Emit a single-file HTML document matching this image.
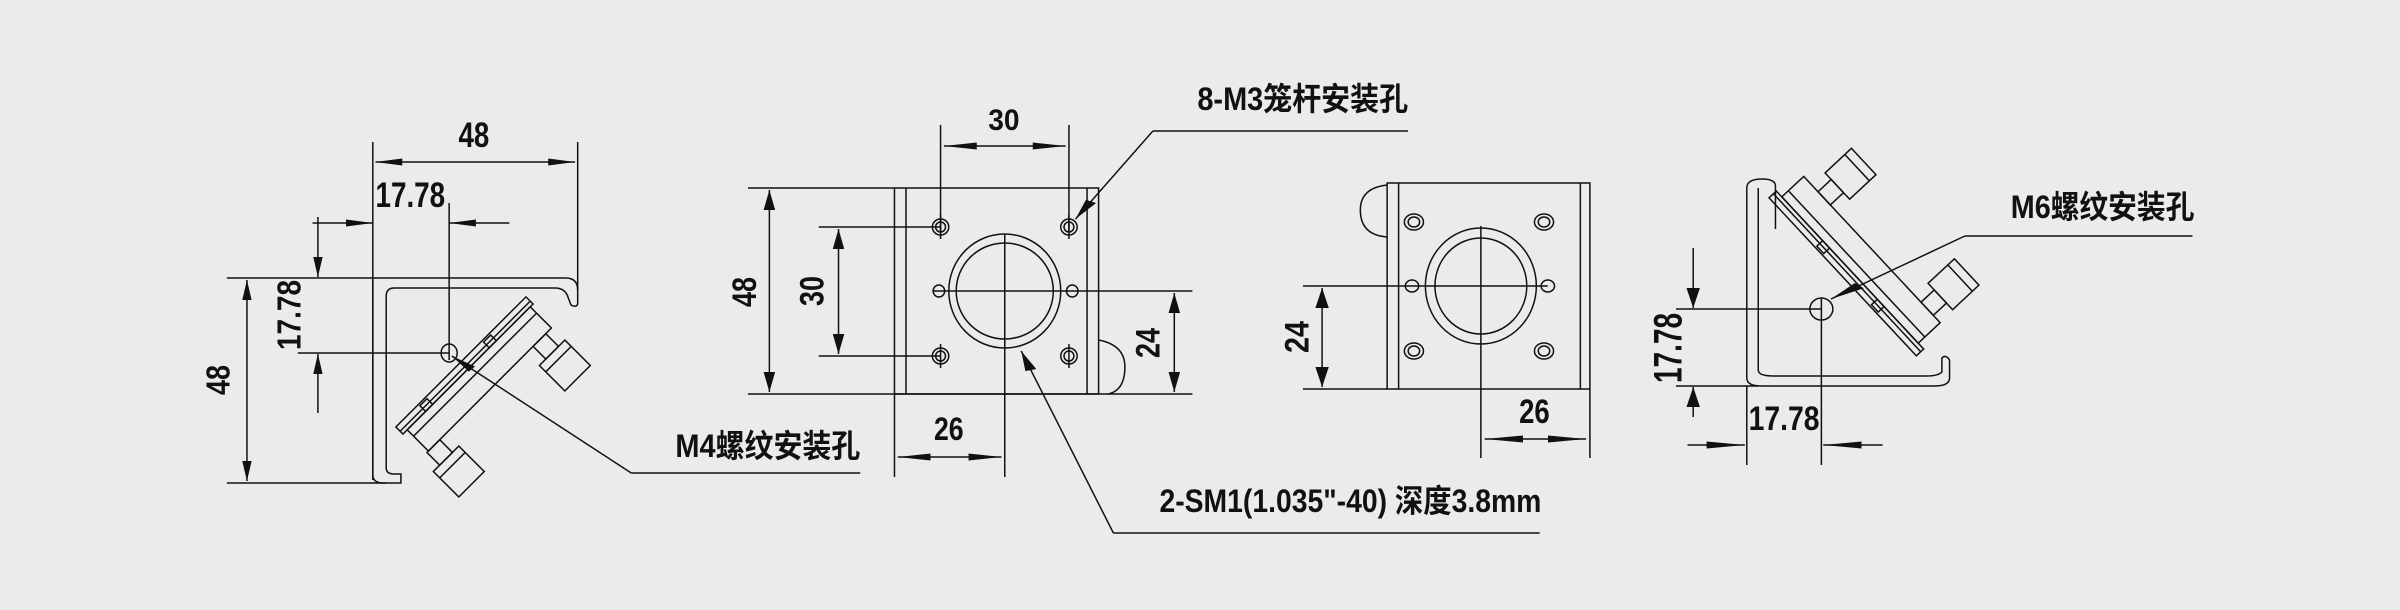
<!DOCTYPE html>
<html><head><meta charset="utf-8"><style>
html,body{margin:0;padding:0;background:#ebebeb;}
svg{display:block;}
text{font-family:"Liberation Sans","Noto Sans CJK SC",sans-serif;fill:#111;font-weight:bold;}
g.s *{vector-effect:non-scaling-stroke;}
</style></head><body>
<svg width="2400" height="610" viewBox="0 0 2400 610" xmlns="http://www.w3.org/2000/svg">
<defs>
<marker id="a" markerWidth="20" markerHeight="10" refX="20" refY="5" orient="auto-start-reverse" markerUnits="userSpaceOnUse">
<path d="M0,1.5 L20,5 L0,8.5 z" fill="#111"/></marker>
</defs>
<rect width="2400" height="610" fill="#ebebeb"/>

<!-- ===== GROUP 1: LEFT SIDE VIEW ===== -->
<g transform="translate(180,0) scale(1.339,1) translate(-180,0)">
<g class="s" stroke="#111" stroke-width="1.5" fill="none">
<line x1="324" y1="142" x2="324" y2="480"/>
<line x1="477" y1="142" x2="477" y2="290"/>
<line x1="326" y1="162" x2="475" y2="162" marker-start="url(#a)" marker-end="url(#a)"/>
<line x1="279" y1="223" x2="324" y2="223" marker-end="url(#a)"/>
<line x1="426" y1="223" x2="381" y2="223" marker-end="url(#a)"/>
<line x1="381" y1="203" x2="381" y2="360"/>
<path d="M215,278 L468,278 Q477,278 477,290 L477,304 Q476,308 472,305 L470,298 Q468,288 460,288 L340,288 Q334,288 334,296 L334,468 Q334,474 340,474 L345,474 L345,483 L332,483 Q324,483 324,475 L324,278"/>
<line x1="215" y1="483" x2="334" y2="483"/>
<line x1="230" y1="280" x2="230" y2="481" marker-start="url(#a)" marker-end="url(#a)"/>
<line x1="283" y1="217" x2="283" y2="277" marker-end="url(#a)"/>
<line x1="283" y1="413" x2="283" y2="354" marker-end="url(#a)"/>
<line x1="268" y1="353" x2="381" y2="353"/>
<ellipse cx="381" cy="353" rx="6" ry="9"/>
<line x1="517" y1="473" x2="383" y2="356" marker-end="url(#a)"/>
<line x1="517" y1="473" x2="688" y2="473"/>
</g>
<text x="388" y="147" font-size="35" textLength="23" lengthAdjust="spacingAndGlyphs">48</text>
<text x="326" y="207" font-size="35" textLength="52" lengthAdjust="spacingAndGlyphs">17.78</text>
<text transform="translate(217,380) rotate(-90)" font-size="25" text-anchor="middle" textLength="30" lengthAdjust="spacingAndGlyphs">48</text>
<text transform="translate(270,315) rotate(-90)" font-size="25" text-anchor="middle" textLength="70" lengthAdjust="spacingAndGlyphs">17.78</text>
<text x="550" y="457" font-size="32" textLength="138" lengthAdjust="spacingAndGlyphs">M4螺纹安装孔</text>
</g>
<!-- left slanted assembly (real coords) -->
<g stroke="#111" stroke-width="1.5" fill="none" transform="translate(468,369) rotate(-45)">
<rect x="-92" y="-10" width="184" height="10"/>
<line x1="-92" y1="-4" x2="92" y2="-4"/>
<rect x="-86" y="0" width="174" height="30"/>
<line x1="-86" y1="9" x2="88" y2="9"/>
<rect x="62" y="30" width="18" height="18"/>
<rect x="53" y="48" width="36" height="36"/>
<line x1="53" y1="57" x2="89" y2="57"/>
<rect x="-88" y="30" width="18" height="18"/>
<rect x="-97" y="48" width="36" height="36"/>
<line x1="-97" y1="57" x2="-61" y2="57"/>
<rect x="-60" y="-8" width="10" height="8"/>
<rect x="30" y="-8" width="10" height="8"/>
</g>

<!-- ===== GROUP 2: FRONT VIEW 1 ===== -->
<g transform="translate(720,0) scale(1.646,1) translate(-720,0)">
<g class="s" stroke="#111" stroke-width="1.5" fill="none">
<rect x="826" y="188" width="124" height="206"/>
<line x1="833" y1="188" x2="833" y2="394"/>
<line x1="943" y1="188" x2="943" y2="394"/>
<path d="M950,340 Q966,345 966,367 Q966,390 956,394"/>
<line x1="737" y1="188" x2="826" y2="188"/>
<line x1="737" y1="394" x2="1007" y2="394"/>
<line x1="750" y1="190" x2="750" y2="392" marker-start="url(#a)" marker-end="url(#a)"/>
<line x1="780" y1="227" x2="854" y2="227"/>
<line x1="780" y1="356" x2="854" y2="356"/>
<line x1="792" y1="229" x2="792" y2="354" marker-start="url(#a)" marker-end="url(#a)"/>
<line x1="854" y1="125" x2="854" y2="232"/>
<line x1="932" y1="125" x2="932" y2="232"/>
<line x1="856" y1="146" x2="930" y2="146" marker-start="url(#a)" marker-end="url(#a)"/>
<ellipse cx="893" cy="291" rx="34" ry="57"/>
<ellipse cx="893" cy="291" rx="29.5" ry="48"/>
<line x1="893" y1="234" x2="893" y2="477"/>
<line x1="849" y1="291" x2="1007" y2="291"/>
<line x1="996" y1="293" x2="996" y2="392" marker-start="url(#a)" marker-end="url(#a)"/>
<line x1="826" y1="394" x2="826" y2="477"/>
<line x1="828" y1="457" x2="891" y2="457" marker-start="url(#a)" marker-end="url(#a)"/>
<ellipse cx="854" cy="227" rx="5" ry="8"/><ellipse cx="854" cy="227" rx="3" ry="5"/>
<ellipse cx="932" cy="227" rx="5" ry="8"/><ellipse cx="932" cy="227" rx="3" ry="5"/>
<ellipse cx="854" cy="356" rx="5" ry="8"/><ellipse cx="854" cy="356" rx="3" ry="5"/>
<ellipse cx="932" cy="356" rx="5" ry="8"/><ellipse cx="932" cy="356" rx="3" ry="5"/>
<ellipse cx="853" cy="291" rx="3.5" ry="6"/><ellipse cx="934" cy="291" rx="3.5" ry="6"/>
<line x1="854" y1="215" x2="854" y2="239"/><line x1="932" y1="215" x2="932" y2="239"/>
<line x1="854" y1="344" x2="854" y2="368"/><line x1="932" y1="344" x2="932" y2="368"/>
<line x1="983" y1="131" x2="936" y2="219" marker-end="url(#a)"/>
<line x1="983" y1="131" x2="1138" y2="131"/>
<line x1="959" y1="533" x2="903" y2="351" marker-end="url(#a)"/>
<line x1="959" y1="533" x2="1218" y2="533"/>
</g>
<text x="883" y="130" font-size="30" textLength="19" lengthAdjust="spacingAndGlyphs">30</text>
<text x="1010" y="110" font-size="32" textLength="128" lengthAdjust="spacingAndGlyphs">8-M3笼杆安装孔</text>
<text x="987" y="512" font-size="32" textLength="232" lengthAdjust="spacingAndGlyphs">2-SM1(1.035"-40) 深度3.8mm</text>
<text transform="translate(742,292) rotate(-90)" font-size="21" text-anchor="middle" textLength="30" lengthAdjust="spacingAndGlyphs">48</text>
<text transform="translate(783,291) rotate(-90)" font-size="21" text-anchor="middle" textLength="30" lengthAdjust="spacingAndGlyphs">30</text>
<text transform="translate(987,343) rotate(-90)" font-size="21" text-anchor="middle" textLength="30" lengthAdjust="spacingAndGlyphs">24</text>
<text x="850" y="440" font-size="32" textLength="18" lengthAdjust="spacingAndGlyphs">26</text>
</g>

<!-- ===== GROUP 3: FRONT VIEW 2 + RIGHT SIDE VIEW ===== -->
<g transform="translate(1280,0) scale(1.913,1) translate(-1280,0)">
<g class="s" stroke="#111" stroke-width="1.5" fill="none">
<rect x="1336" y="183" width="106" height="206"/>
<line x1="1342" y1="183" x2="1342" y2="389"/>
<line x1="1437" y1="183" x2="1437" y2="389"/>
<path d="M1336,185 Q1322,188 1322,210 Q1322,235 1336,237"/>
<line x1="1292" y1="389" x2="1336" y2="389"/>
<line x1="1292" y1="286" x2="1420" y2="286"/>
<line x1="1302" y1="288" x2="1302" y2="387" marker-start="url(#a)" marker-end="url(#a)"/>
<ellipse cx="1385" cy="286" rx="29" ry="58"/>
<ellipse cx="1385" cy="286" rx="24" ry="48"/>
<line x1="1385" y1="226" x2="1385" y2="458"/>
<line x1="1442" y1="389" x2="1442" y2="458"/>
<line x1="1387" y1="439" x2="1440" y2="439" marker-start="url(#a)" marker-end="url(#a)"/>
<ellipse cx="1350" cy="222" rx="5" ry="8"/><ellipse cx="1350" cy="222" rx="3" ry="5"/>
<ellipse cx="1418" cy="222" rx="5" ry="8"/><ellipse cx="1418" cy="222" rx="3" ry="5"/>
<ellipse cx="1350" cy="351" rx="5" ry="8"/><ellipse cx="1350" cy="351" rx="3" ry="5"/>
<ellipse cx="1418" cy="351" rx="5" ry="8"/><ellipse cx="1418" cy="351" rx="3" ry="5"/>
<ellipse cx="1349" cy="286" rx="3.5" ry="6"/><ellipse cx="1420" cy="286" rx="3.5" ry="6"/>
<path d="M1539,229 L1539,186 Q1539,179 1532,179 Q1524,179 1524,188 L1524,378 Q1524,386 1532,386 L1622,386 Q1630,386 1630,378 L1630,360 Q1628,354 1626,358 L1626,372 Q1624,376 1618,376 L1538,376 Q1530,376 1530,370 L1530,188"/>
<line x1="1487" y1="386" x2="1530" y2="386"/>
<line x1="1487" y1="309" x2="1563" y2="309"/>
<ellipse cx="1563" cy="309" rx="6" ry="11"/>
<line x1="1496" y1="248" x2="1496" y2="308" marker-end="url(#a)"/>
<line x1="1496" y1="417" x2="1496" y2="387" marker-end="url(#a)"/>
<line x1="1524" y1="386" x2="1524" y2="465"/>
<line x1="1563" y1="298" x2="1563" y2="465"/>
<line x1="1493" y1="445" x2="1523" y2="445" marker-end="url(#a)"/>
<line x1="1595" y1="445" x2="1564" y2="445" marker-end="url(#a)"/>
<line x1="1638" y1="236" x2="1568" y2="299" marker-end="url(#a)"/>
<line x1="1638" y1="236" x2="1757" y2="236"/>
</g>
<text transform="translate(1295,337) rotate(-90)" font-size="18" text-anchor="middle" textLength="32" lengthAdjust="spacingAndGlyphs">24</text>
<text x="1405" y="423" font-size="34" textLength="16" lengthAdjust="spacingAndGlyphs">26</text>
<text transform="translate(1490,348) rotate(-90)" font-size="21" text-anchor="middle" textLength="70" lengthAdjust="spacingAndGlyphs">17.78</text>
<text x="1525" y="430" font-size="34" textLength="37" lengthAdjust="spacingAndGlyphs">17.78</text>
<text x="1662" y="218" font-size="32" textLength="96" lengthAdjust="spacingAndGlyphs">M6螺纹安装孔</text>
</g>
<!-- right slanted assembly (real coords) -->
<g stroke="#111" stroke-width="1.5" fill="none" transform="translate(1850,270) rotate(47)">
<rect x="-108" y="0" width="216" height="10"/>
<line x1="-108" y1="4" x2="108" y2="4"/>
<rect x="-100" y="-30" width="200" height="30"/>
<line x1="-100" y1="-9" x2="100" y2="-9"/>
<rect x="-79" y="-48" width="18" height="18"/>
<rect x="-88" y="-84" width="36" height="36"/>
<line x1="-88" y1="-75" x2="-52" y2="-75"/>
<rect x="72" y="-48" width="18" height="18"/>
<rect x="63" y="-84" width="36" height="36"/>
<line x1="63" y1="-75" x2="99" y2="-75"/>
<rect x="-40" y="0" width="10" height="8"/>
<rect x="40" y="0" width="10" height="8"/>
</g>
</svg>
</body></html>
